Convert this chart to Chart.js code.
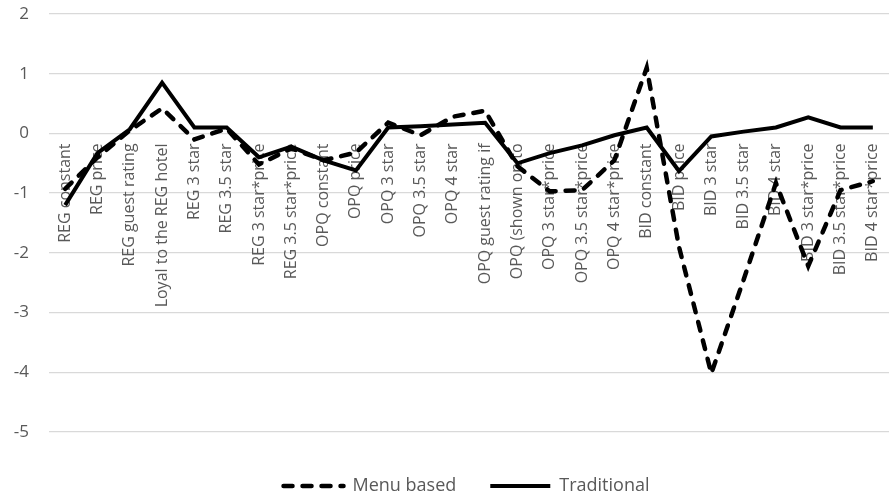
<!DOCTYPE html>
<html>
<head>
<meta charset="utf-8">
<script src="https://cdn.jsdelivr.net/npm/chart.js@4"></script>
<style>
  html, body { margin: 0; padding: 0; background: #ffffff; overflow: hidden; }
  #wrap { position: relative; width: 889px; height: 499px; }
</style>
</head>
<body>
<div id="wrap"><canvas id="c"></canvas></div>
<script>
const categories = [
  "REG constant", "REG price", "REG guest rating", "Loyal to the REG hotel",
  "REG 3 star", "REG 3.5 star", "REG 3 star*price", "REG 3.5 star*price",
  "OPQ constant", "OPQ price", "OPQ 3 star", "OPQ 3.5 star", "OPQ 4 star",
  "OPQ guest rating if", "OPQ (shown on to", "OPQ 3 star*price",
  "OPQ 3.5 star*price", "OPQ 4 star*price", "BID constant", "BID price",
  "BID 3 star", "BID 3.5 star", "BID 4 star", "BID 3 star*price",
  "BID 3.5 star*price", "BID 4 star*price"
];
const menuBased = [
  -0.93, -0.40, 0.05, 0.42, -0.10, 0.08, -0.52, -0.25,
  -0.45, -0.32, 0.18, -0.03, 0.28, 0.38, -0.55, -0.97,
  -0.95, -0.45, 1.10, -1.90, -4.02, -2.45, -0.83, -2.22,
  -0.95, -0.80
];
const traditional = [
  -1.20, -0.33, 0.07, 0.85, 0.10, 0.10, -0.40, -0.22,
  -0.45, -0.62, 0.10, 0.12, 0.15, 0.18, -0.50, -0.33,
  -0.20, -0.03, 0.10, -0.63, -0.05, 0.03, 0.10, 0.27,
  0.10, 0.10
];
const yTicks = { min: -5, max: 2, step: 1 };
const yTickLabels = ["2", "1", "0", "-1", "-2", "-3", "-4", "-5"];

const textColor = '#595959';
const gridColor = '#d9d9d9';
const fontFamily = '"Open Sans", "DejaVu Sans", sans-serif';

// measure widest y label so the mirrored labels can be right-aligned left of the plot
const mctx = document.createElement('canvas').getContext('2d');
mctx.font = '17px ' + fontFamily;
const yWidest = Math.max(...yTickLabels.map(t => mctx.measureText(t).width));
const yLabelRight = 29;   // right edge of y labels
const plotLeft = 49;      // left of plotting area

new Chart(document.getElementById('c'), {
  type: 'line',
  data: {
    labels: categories,
    datasets: [
      {
        label: 'Menu based',
        data: menuBased,
        borderColor: '#000000',
        backgroundColor: '#000000',
        borderWidth: 4.5,
        borderDash: [9, 10],
        borderCapStyle: 'round',
        borderJoinStyle: 'miter',
        pointRadius: 0,
        tension: 0,
        fill: false
      },
      {
        label: 'Traditional',
        data: traditional,
        borderColor: '#000000',
        backgroundColor: '#000000',
        borderWidth: 4,
        borderCapStyle: 'butt',
        borderJoinStyle: 'miter',
        pointRadius: 0,
        tension: 0,
        fill: false
      }
    ]
  },
  options: {
    responsive: true,
    maintainAspectRatio: false,
    animation: false,
    layout: { padding: { left: 34, right: -10, top: 14, bottom: -6 } },
    plugins: {
      legend: {
        display: true,
        position: 'bottom',
        labels: {
          usePointStyle: true,
          pointStyle: 'line',
          pointStyleWidth: 60,
          boxWidth: 60,
          padding: 34,
          color: textColor,
          font: { family: fontFamily, size: 18 },
          generateLabels: (chart) => Chart.defaults.plugins.legend.labels.generateLabels(chart).map((it) => {
            const ds = chart.data.datasets[it.datasetIndex];
            it.lineDash = ds.borderDash || [];
            it.lineWidth = ds.borderWidth;
            it.lineCap = ds.borderCapStyle || 'butt';
            it.strokeStyle = ds.borderColor;
            it.fillStyle = ds.borderColor;
            return it;
          })
        }
      },
      tooltip: { enabled: false }
    },
    scales: {
      x: {
        type: 'category',
        offset: true,
        position: { y: 0 },
        grid: { display: false, drawTicks: false },
        border: { display: false },
        afterFit: (s) => { s.paddingLeft = 0; s.paddingRight = 0; },
        ticks: {
          autoSkip: false,
          maxRotation: 90,
          minRotation: 90,
          padding: 10,
          color: textColor,
          font: { family: fontFamily, size: 16 }
        }
      },
      xb: {
        type: 'category',
        position: 'bottom',
        display: true,
        grid: { display: false, drawTicks: false },
        border: { display: false },
        ticks: { display: false },
        afterFit: (s) => { s.height = 11; s.paddingLeft = 0; s.paddingRight = 0; }
      },
      y: {
        type: 'linear',
        min: yTicks.min,
        max: yTicks.max,
        grid: { color: gridColor, lineWidth: 1.3, drawTicks: false },
        border: { display: false },
        afterFit: (s) => { s.width = plotLeft - 34; s.paddingTop = 10; s.paddingBottom = 10; },
        ticks: {
          stepSize: yTicks.step,
          mirror: true,
          crossAlign: 'far',
          padding: yLabelRight - plotLeft - yWidest,
          color: textColor,
          font: { family: fontFamily, size: 17 }
        }
      }
    }
  }
});
</script>
</body>
</html>
